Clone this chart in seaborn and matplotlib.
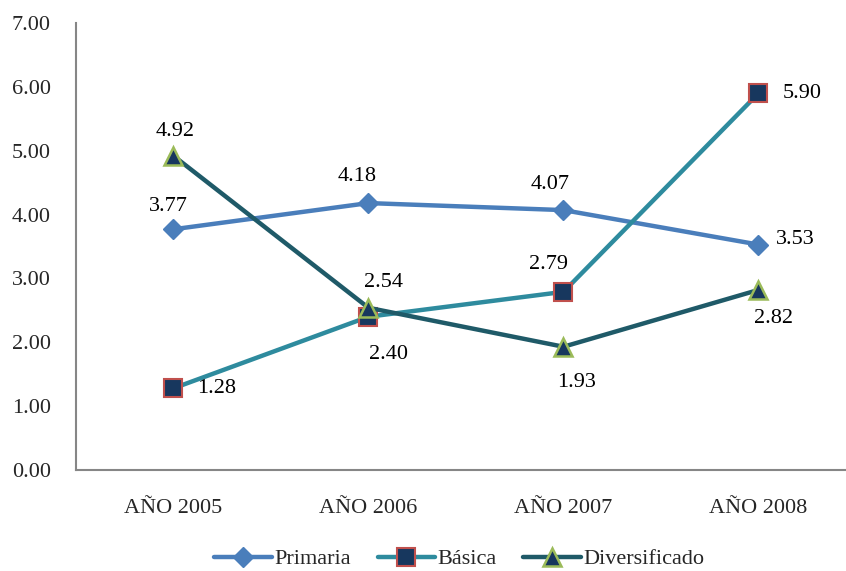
import matplotlib
matplotlib.use("Agg")
import matplotlib.pyplot as plt
import seaborn as sns
import pandas as pd

# data
years = ["AÑO 2005", "AÑO 2006", "AÑO 2007", "AÑO 2008"]
primaria = [3.77, 4.18, 4.07, 3.53]
basica = [1.28, 2.40, 2.79, 5.90]
diversificado = [4.92, 2.54, 1.93, 2.82]

df = pd.DataFrame({"year": years * 3,
                   "value": primaria + basica + diversificado,
                   "serie": ["Primaria"] * 4 + ["Básica"] * 4 + ["Diversificado"] * 4})

sns.set_theme(style="white")
plt.rcParams["font.family"] = ["Liberation Serif", "DejaVu Serif"]
FS = 16

fig = plt.figure(figsize=(8.46, 5.71), dpi=100)
ax = fig.add_axes([0.0898, 0.1769, 0.922, 0.7828])

styles = {
    "Primaria": dict(color="#4a7ebb", marker="D", markersize=10,
                     markerfacecolor="#4a7ebb", markeredgecolor="#4a7ebb", markeredgewidth=1),
    "Básica": dict(color="#2e8b9e", marker="s", markersize=12.5,
                   markerfacecolor="#17375e", markeredgecolor="#c0504d", markeredgewidth=1.5),
    "Diversificado": dict(color="#1f5a68", marker="^", markersize=13,
                          markerfacecolor="#17375e", markeredgecolor="#9bbb59", markeredgewidth=1.8),
}

for name in ["Primaria", "Básica", "Diversificado"]:
    sub = df[df["serie"] == name]
    sns.lineplot(data=sub, x="year", y="value", ax=ax, label=name,
                 linewidth=3.2, **styles[name])

# label offsets in pixels (dx, dy), dy positive = up
label_offsets = {
    "Primaria": [(-5, 23), (-11, 27), (-13, 26), (37, 5)],
    "Básica": [(43, 0), (20, -38), (-15, 27), (44, 0)],
    "Diversificado": [(2, 24), (15, 25), (13, -36), (15, -29)],
}
for name, vals in [("Primaria", primaria), ("Básica", basica), ("Diversificado", diversificado)]:
    for i, v in enumerate(vals):
        ax.annotate(f"{v:.2f}", (i, v), xytext=label_offsets[name][i],
                    textcoords="offset pixels", ha="center", va="center",
                    fontsize=FS, color="black")

ax.set_xlim(-0.5, 3.5)
ax.set_ylim(0, 7)
ax.set_yticks([0, 1, 2, 3, 4, 5, 6, 7])
ax.set_yticklabels([f"{t:.2f}" for t in range(8)])
ax.set_xticks(range(4))
ax.set_xticklabels(years)
ax.set_xticks([-0.5, 0.5, 1.5, 2.5], minor=True)
ax.tick_params(axis="x", which="major", length=0, pad=21, labelsize=FS)
ax.tick_params(axis="x", which="minor", length=5, width=1.2, color="#868686", direction="out")
ax.tick_params(axis="y", length=5, width=1.2, color="#868686", direction="out", pad=13, labelsize=FS)
ax.set_xlabel("")
ax.set_ylabel("")

for s in ["top", "right"]:
    ax.spines[s].set_visible(False)
for s in ["left", "bottom"]:
    ax.spines[s].set_color("#868686")
    ax.spines[s].set_linewidth(1.5)

ax.get_legend().remove()
handles, labels = ax.get_legend_handles_labels()
fig.legend(handles, labels, loc="center", bbox_to_anchor=(0.543, 0.021), ncol=3,
           frameon=False, fontsize=FS, handlelength=2.6, handletextpad=0.1,
           columnspacing=1.2, borderpad=0)

fig.savefig("out.png", dpi=100)
